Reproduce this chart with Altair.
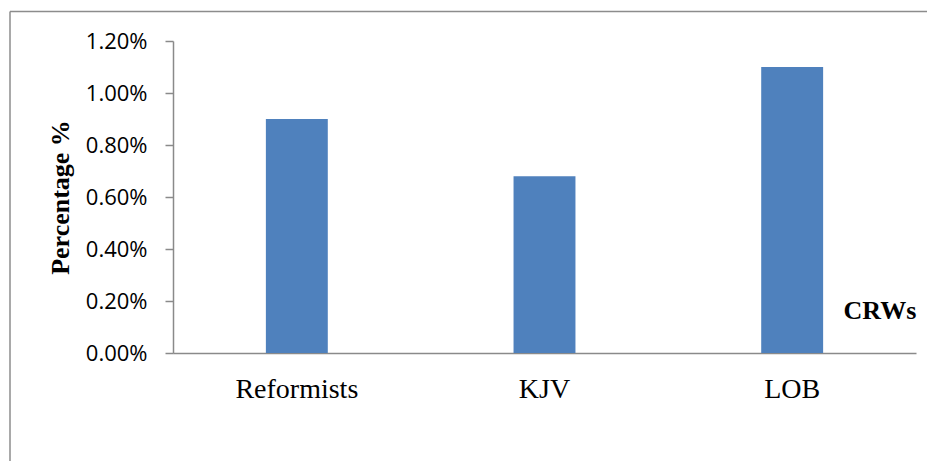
import altair as alt
import pandas as pd

categories = ["Reformists", "KJV", "LOB"]
values = [0.0090, 0.0068, 0.0110]
y_ticks = [0.0, 0.002, 0.004, 0.006, 0.008, 0.010, 0.012]

df = pd.DataFrame({"cat": categories, "val": values})

PLOT_W = 743
PLOT_H = 312
AXIS_COLOR = "#8a8a8a"

bars = alt.Chart(df).mark_bar(color="#4F81BD").encode(
    x=alt.X(
        "cat:N",
        sort=categories,
        scale=alt.Scale(paddingInner=0.75, paddingOuter=0.375),
        axis=alt.Axis(
            title="CRWs",
            titleFont="Liberation Serif",
            titleFontSize=26,
            titleFontWeight="bold",
            titleColor="black",
            titleAlign="left",
            titleBaseline="alphabetic",
            titleX=670,
            titleY=-35,
            labelAngle=0,
            labelFont="Liberation Serif",
            labelFontSize=28,
            labelColor="black",
            labelBaseline="alphabetic",
            labelPadding=44,
            ticks=False,
            domainColor=AXIS_COLOR,
            domainWidth=1.5,
            grid=False,
        ),
    ),
    y=alt.Y(
        "val:Q",
        scale=alt.Scale(domain=[0, 0.012], nice=False),
        axis=alt.Axis(
            title="Percentage %",
            titleFont="Liberation Serif",
            titleFontSize=26,
            titleFontWeight="bold",
            titleColor="black",
            titleAngle=-90,
            titleAlign="center",
            titleBaseline="alphabetic",
            titleX=-105,
            titleY=PLOT_H / 2,
            values=y_ticks,
            format=".2%",
            labelFont="Open Sans",
            labelFontSize=22,
            labelColor="black",
            labelPadding=18,
            tickSize=8,
            tickColor=AXIS_COLOR,
            tickWidth=1.5,
            domainColor=AXIS_COLOR,
            domainWidth=1.5,
            grid=False,
        ),
    ),
)

frame_src = alt.Data(values=[{"k": 1}])
frame_top = alt.Chart(frame_src).mark_rule(color="#8c8c8c", strokeWidth=1.5).encode(
    x=alt.value(-163), x2=alt.value(PLOT_W + 20), y=alt.value(-29.5)
)
frame_left = alt.Chart(frame_src).mark_rule(color="#8c8c8c", strokeWidth=1.5).encode(
    x=alt.value(-163), y=alt.value(-29.5), y2=alt.value(PLOT_H + 120)
)

chart = alt.layer(frame_top, frame_left, bars).properties(
    width=PLOT_W,
    height=PLOT_H,
    padding={"left": 165, "top": 33, "right": 11, "bottom": 108},
    autosize=alt.AutoSizeParams(type="none"),
    background="white",
).configure_view(stroke=None)

chart.save("out.html", embed_options={"renderer": "svg", "actions": False})
